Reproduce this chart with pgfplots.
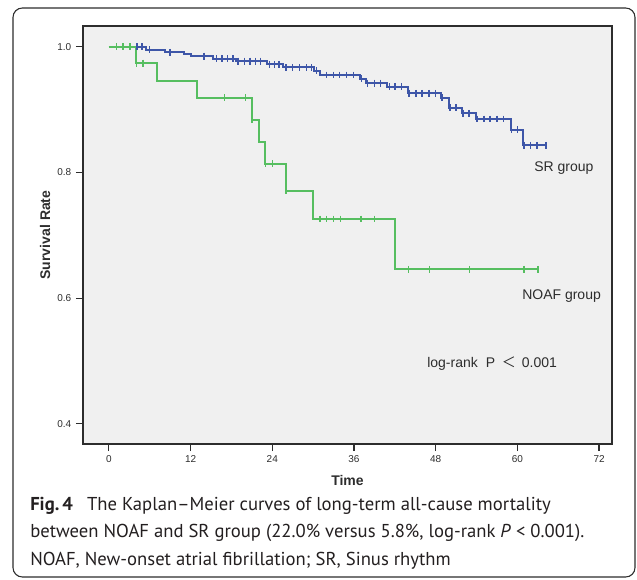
\documentclass[border=0pt]{standalone}
\usepackage{pgfplots}
\pgfplotsset{compat=1.18}
\usepackage{fontspec}
\setmainfont{Liberation Sans}
\newfontfamily\capfont{PT Sans}
\newfontfamily\cjk{Noto Sans CJK SC}
\definecolor{srblue}{RGB}{62,86,168}
\definecolor{afgreen}{RGB}{86,190,96}
\definecolor{plotbg}{RGB}{240,240,240}
\definecolor{framegray}{RGB}{45,45,45}
\definecolor{capblack}{RGB}{35,31,32}

\begin{document}
\begin{tikzpicture}
\begin{scope}[x=0.75pt,y=-0.75pt]
  \useasboundingbox (0,0) rectangle (637,580);
  \draw[framegray, line width=0.8pt, rounded corners=7pt] (13,8) rectangle (635,577);
\end{scope}

\begin{axis}[
    at={(62.25pt,-19.5pt)}, anchor=north west,
    scale only axis, width=396.75pt, height=313.5pt,
    xmin=-3.8, xmax=73.9, ymin=0.368, ymax=1.033,
    axis background/.style={fill=plotbg},
    axis line style={framegray, line width=1pt},
    xtick={0,12,...,72}, ytick={0.4,0.6,0.8,1.0},
    xtick pos=bottom, ytick pos=left, tick align=outside,
    major tick length=5.25pt,
    tick style={framegray, line width=0.9pt},
    yticklabel style={/pgf/number format/fixed, /pgf/number format/fixed zerofill, /pgf/number format/precision=1},
    ticklabel style={font=\fontsize{7.5}{9}\selectfont, text=framegray},
    /pgf/number format/assume math mode=true,
    clip=false,
]
% SR group
\addplot[const plot, draw=srblue, line width=1.5pt] coordinates {
  (0,1.0) (5.5,0.995) (8.2,0.991) (11.1,0.988) (12.1,0.985) (15.3,0.981)
  (18.7,0.977) (23.2,0.972) (25.6,0.967) (30.2,0.962) (31.0,0.955)
  (36.9,0.949) (37.8,0.942) (40.9,0.936) (43.9,0.926) (48.8,0.919)
  (50.0,0.903) (51.9,0.894) (53.9,0.885) (59.0,0.868) (60.9,0.843) (64.2,0.843)
};
\addplot[only marks, mark=|, mark size=2.6pt, srblue, mark options={draw=srblue, line width=1.1pt}] coordinates {
  (1.1,1.0) (2.1,1.0) (3.1,1.0) (4.1,1.0) (4.9,1.0)
  (6.0,0.995) (9.0,0.991) (14.0,0.985)
  (15.8,0.981) (16.6,0.981) (17.4,0.981) (18.2,0.981)
  (19.0,0.977) (19.9,0.977) (20.7,0.977) (21.5,0.977) (22.3,0.977)
  (23.6,0.972) (24.3,0.972) (25.0,0.972)
  (26.0,0.967) (27.0,0.967) (28.0,0.967) (29.0,0.967) (29.8,0.967)
  (30.5,0.962)
  (32.0,0.955) (33.0,0.955) (33.9,0.955) (34.9,0.955) (35.9,0.955)
  (37.1,0.949)
  (38.0,0.942) (39.0,0.942) (39.9,0.942)
  (41.2,0.936) (42.0,0.936) (43.0,0.936)
  (44.1,0.926) (45.1,0.926) (46.0,0.926) (47.0,0.926) (48.0,0.926)
  (48.9,0.919)
  (50.1,0.903) (51.0,0.903)
  (52.0,0.894) (52.9,0.894)
  (54.1,0.885) (55.1,0.885) (56.0,0.885) (57.0,0.885) (58.0,0.885)
  (59.1,0.868) (60.0,0.868)
  (61.0,0.843) (61.9,0.843) (62.9,0.843) (64.2,0.843)
};
% NOAF group
\addplot[const plot, draw=afgreen, line width=1.5pt] coordinates {
  (0,1.0) (4.05,0.974) (7.05,0.946) (13.0,0.919) (21.0,0.884) (22.1,0.849)
  (23.0,0.814) (26.0,0.771) (30.0,0.726) (42.0,0.646) (63.0,0.646)
};
\addplot[only marks, mark=|, mark size=2.6pt, afgreen, mark options={draw=afgreen, line width=1.1pt}] coordinates {
  (1.1,1.0) (2.1,1.0) (3.1,1.0)
  (4.05,0.974) (5.0,0.974)
  (17.0,0.919) (20.1,0.919)
  (21.0,0.884)
  (23.0,0.814) (24.0,0.814)
  (26.0,0.771)
  (31.0,0.726) (32.0,0.726) (33.0,0.726) (34.0,0.726) (37.0,0.726) (39.0,0.726)
  (44.0,0.646) (47.1,0.646) (53.0,0.646) (61.0,0.646) (63.0,0.646)
};
\end{axis}

\begin{scope}[x=0.75pt,y=-0.75pt]
  \node[rotate=90, font=\bfseries\fontsize{10.5}{12}\selectfont, text=framegray] at (45,235) {Survival Rate};
  \node[font=\bfseries\fontsize{10.5}{12}\selectfont, text=framegray] at (347.5,481) {Time};
  \node[anchor=west, inner sep=0, font=\fontsize{10.5}{12}\selectfont, text=framegray] at (534,168) {SR group};
  \node[anchor=west, inner sep=0, font=\fontsize{10.5}{12}\selectfont, text=framegray] at (522,296) {NOAF group};
  \node[anchor=west, inner sep=0, font=\fontsize{10.5}{12}\selectfont, text=framegray] at (427,364)
    {log-rank\hspace{6pt}P\hspace{5pt}{\cjk ＜}\hspace{4.5pt}0.001};
  \node[anchor=base west, inner sep=0, font=\capfont\fontsize{14}{17}\selectfont, text=capblack] at (30,510.7)
    {\textbf{Fig.\,4}\hspace{0.75em}The Kaplan–Meier curves of long-term all-cause mortality};
  \node[anchor=base west, inner sep=0, font=\capfont\fontsize{14}{17}\selectfont, text=capblack] at (30,537.5)
    {between NOAF and SR group (22.0\% versus 5.8\%, log-rank \textit{P} < 0.001).};
  \node[anchor=base west, inner sep=0, font=\capfont\fontsize{14}{17}\selectfont, text=capblack] at (30,565.3)
    {NOAF, New-onset atrial fibrillation; SR, Sinus rhythm};
\end{scope}
\end{tikzpicture}
\end{document}
